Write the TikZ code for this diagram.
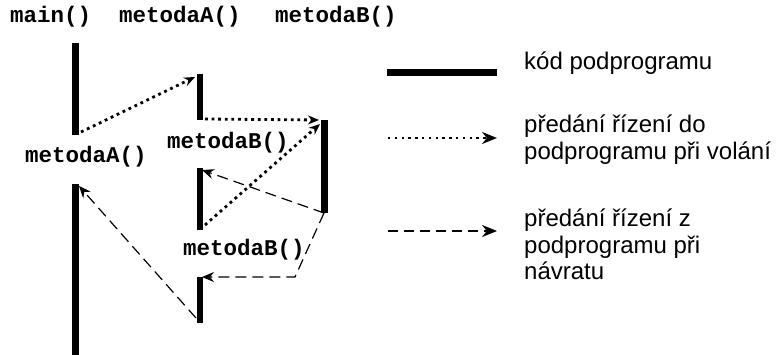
\documentclass[tikz,border=0pt]{standalone}
\usepackage{fontspec}
\setmainfont{Liberation Sans}
\newfontfamily\codefont{Liberation Mono}
\usetikzlibrary{arrows.meta}
\begin{document}
\begin{tikzpicture}[x=1pt,y=-1pt,
  bar/.style={line width=6.5pt},
  callarrow/.style={line width=2.8pt, dash pattern=on 2.8pt off 3.8pt, -{Stealth[length=11pt,width=9pt]}},
  retarrow/.style={line width=1.2pt, dash pattern=on 11pt off 6pt, -{Stealth[length=12pt,width=10pt,inset=4pt]}},
  legcall/.style={line width=2.4pt, dash pattern=on 2.4pt off 4.4pt, -{Stealth[length=15pt,width=12pt]}},
  legret/.style={line width=1.2pt, dash pattern=on 10pt off 6pt, -{Stealth[length=15pt,width=12pt]}},
  code/.style={font=\codefont\bfseries\fontsize{22.5}{24}\selectfont, inner sep=0pt, anchor=west},
  legtext/.style={font=\fontsize{24}{26}\selectfont, inner sep=0pt, anchor=base west}]
\useasboundingbox (0,0) rectangle (779,355);

% headers
\node[code] (hmain) at (10,17) {main()};
\node[code] (hA) at (119,17) {metodaA()};
\node[code] (hB) at (275,17) {metodaB()};

% bar end points
\coordinate (m1t) at (75.5,43);  \coordinate (m1b) at (75.5,135);
\coordinate (m2t) at (75.5,184); \coordinate (m2b) at (75.5,355);
\coordinate (a1t) at (200,74);   \coordinate (a1b) at (200,120);
\coordinate (a2t) at (200,168);  \coordinate (a2b) at (200,230);
\coordinate (a3t) at (200,277);  \coordinate (a3b) at (200,323);
\coordinate (bt) at (324.5,120); \coordinate (bb) at (324.5,213);

\draw[bar] (m1t) -- (m1b);
\draw[bar] (m2t) -- (m2b);
\draw[bar] (a1t) -- (a1b);
\draw[bar] (a2t) -- (a2b);
\draw[bar] (a3t) -- (a3b);
\draw[bar] (bt) -- (bb);

% labels at call sites
\node[code] (lA) at (25,157) {metodaA()};
\node[code] (lB1) at (167,143) {metodaB()};
\node[code] (lB2) at (183,250) {metodaB()};

% call arrows
\coordinate (c1s) at (81,132);  \coordinate (c1e) at (195,77);
\coordinate (c2s) at (205,119); \coordinate (c2e) at (319,120);
\coordinate (c3s) at (205,225); \coordinate (c3e) at (320,124);
\draw[callarrow] (c1s) -- (c1e);
\draw[callarrow] (c2s) -- (c2e);
\draw[callarrow] (c3s) -- (c3e);

% return arrows
\coordinate (r1s) at (324,213); \coordinate (r1e) at (202,170);
\coordinate (r2k) at (295,277); \coordinate (r2e) at (202,277);
\coordinate (r3s) at (196,318); \coordinate (r3e) at (79,186);
\draw[retarrow] (r1s) -- (r1e);
\draw[retarrow] (r1s) -- (r2k) -- (r2e);
\draw[retarrow] (r3s) -- (r3e);

% legend
\coordinate (k1s) at (387,73);  \coordinate (k1e) at (497,73);
\coordinate (k2s) at (388,138); \coordinate (k2e) at (497,138);
\coordinate (k3s) at (388,231); \coordinate (k3e) at (497,231);
\draw[line width=7pt] (k1s) -- (k1e);
\draw[legcall] (k2s) -- (k2e);
\draw[legret] (k3s) -- (k3e);
\node[legtext] (t1) at (524,70) {kód podprogramu};
\node[legtext] (t2a) at (524,133) {předání řízení do};
\node[legtext] (t2b) at (524,160) {podprogramu při volání};
\node[legtext] (t3a) at (524,227) {předání řízení z};
\node[legtext] (t3b) at (524,253.5) {podprogramu při};
\node[legtext] (t3c) at (524,280) {návratu};
\end{tikzpicture}
\end{document}
